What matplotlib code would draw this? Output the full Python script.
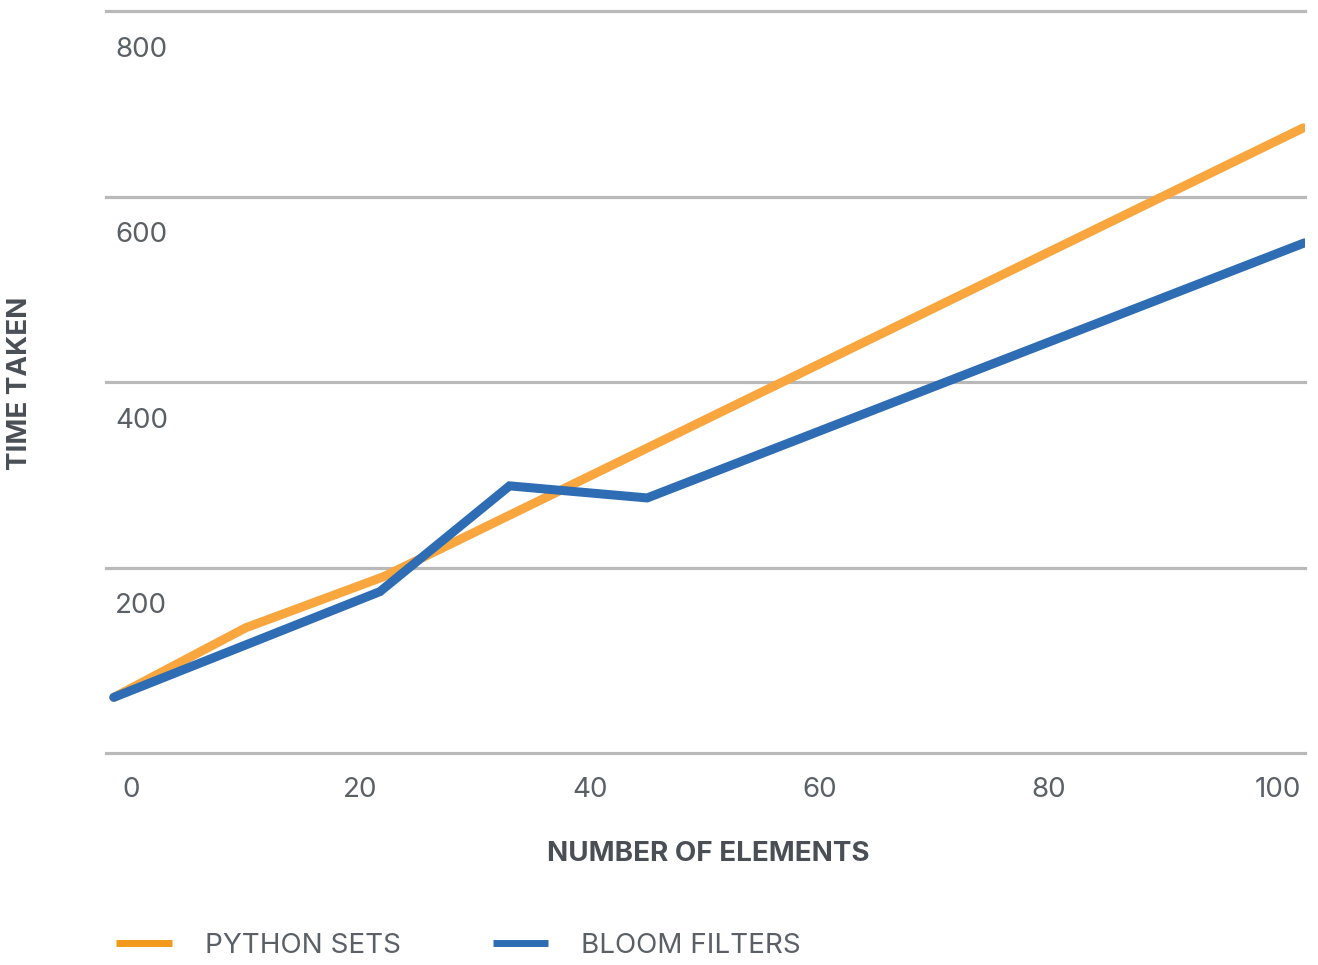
import matplotlib
matplotlib.use("Agg")
import matplotlib.pyplot as plt
from matplotlib.lines import Line2D

# values
x_sets = [-1.5, 10, 22, 102.2]
y_sets = [60, 135, 190, 674]
x_bloom = [-1.5, 21.7, 33, 45, 102.3]
y_bloom = [60, 174, 288, 275, 550]
x_ticks = [0, 20, 40, 60, 80, 100]
y_grid = [0, 200, 400, 600, 800]
y_labels = [200, 400, 600, 800]
series_names = ["PYTHON SETS", "BLOOM FILTERS"]

ORANGE = "#F9A63E"
BLUE = "#2E6DB4"
TEXT = "#5b6067"
DARK = "#4a4f56"

plt.rcParams['font.family'] = ['Inter', 'DejaVu Sans']

fig = plt.figure(figsize=(13.18, 9.65), dpi=100)
W, H = 1318, 965
ax = fig.add_axes([106 / W, (H - 753) / H, (1305 - 106) / W, (753 - 11) / H])
ax.set_xlim(-2.18, 102.35)
ax.set_ylim(0, 800)

for g in y_grid:
    ax.axhline(g, color="#b9b9b9", lw=2.3, clip_on=False, zorder=1)

ax.plot(x_sets, y_sets, color=ORANGE, lw=6.5, solid_capstyle="round",
        solid_joinstyle="miter", zorder=3)
ax.plot(x_bloom, y_bloom, color=BLUE, lw=6.5, solid_capstyle="round",
        solid_joinstyle="miter", zorder=4)

for v in y_labels:
    ax.text(-1.4, v - 42, str(v), ha="left", va="center", fontsize=20,
            color=TEXT)

ax.set_xticks(x_ticks)
ax.set_xticklabels([str(t) for t in x_ticks], fontsize=20, color=TEXT)
ax.tick_params(axis="x", length=0, pad=17)
ax.set_yticks([])
for s in ax.spines.values():
    s.set_visible(False)

fig.text(708 / W, 1 - 854 / H, "NUMBER OF ELEMENTS", ha="center", va="center",
         fontsize=20, fontweight="bold", color=DARK)
fig.text(20 / W, 1 - 383 / H, "TIME TAKEN", ha="center", va="center",
         rotation=90, fontsize=20, fontweight="bold", color=DARK)

handles = [Line2D([], [], color="#F39A1C", lw=5, solid_capstyle="butt"),
           Line2D([], [], color="#2E6DB4", lw=5, solid_capstyle="butt")]
leg = fig.legend(handles, series_names, loc="center left",
                 bbox_to_anchor=(105 / W, 1 - 946 / H), ncol=2, frameon=False,
                 prop={"size": 20}, handlelength=2.0,
                 handletextpad=1.2, columnspacing=3.3, borderaxespad=0)
for t in leg.get_texts():
    t.set_color(TEXT)

fig.savefig("out.png", dpi=100)
